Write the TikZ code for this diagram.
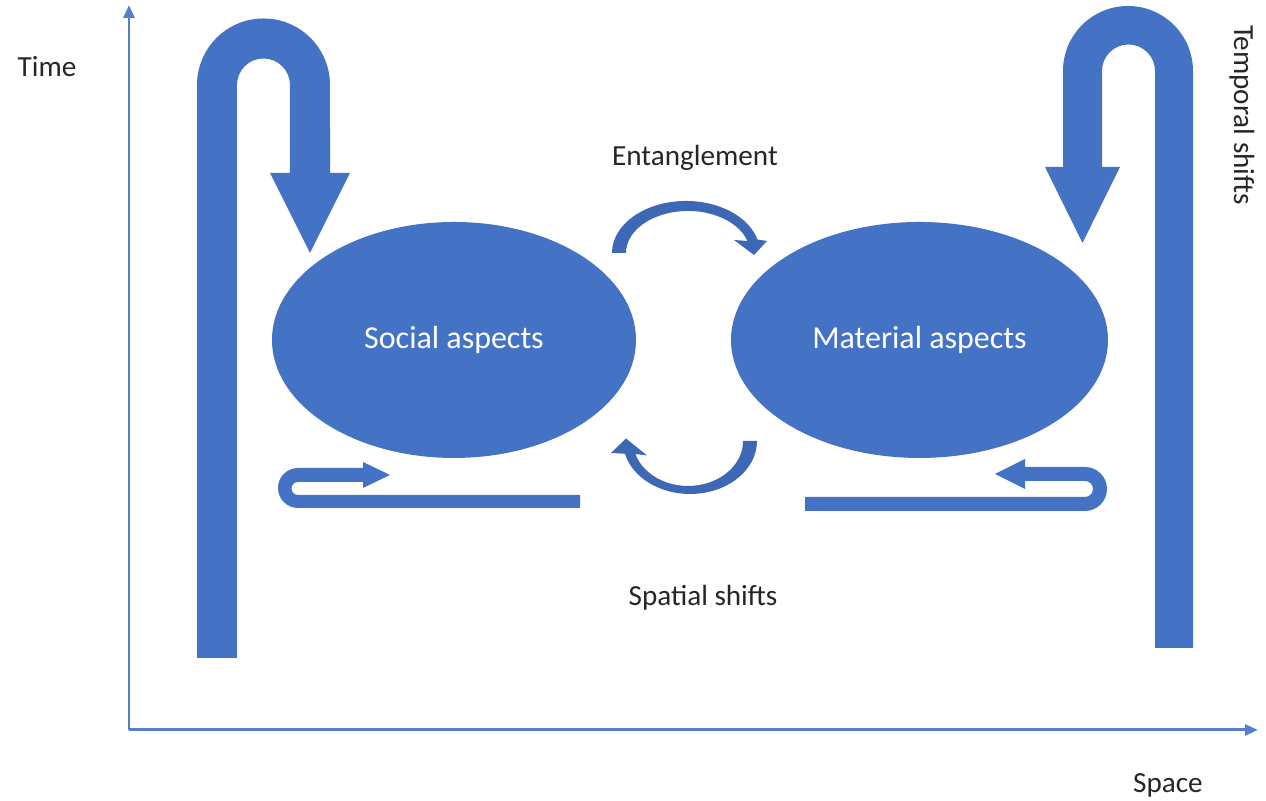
\documentclass[tikz,border=0pt]{standalone}
\usepackage{fontspec}
\setmainfont{Carlito}
\usetikzlibrary{shapes.geometric}
\usetikzlibrary{arrows.meta}
\definecolor{shapeblue}{HTML}{4472C4}
\definecolor{curveblue}{HTML}{3D68B6}

\begin{document}
\begin{tikzpicture}[scale=1.0,
        aspect/.style={ellipse, fill=shapeblue, text=white, font=\fontsize{9.1}{11}\selectfont},
        lbl/.style={font=\fontsize{8.3}{10}\selectfont, text=black!85},
        axis/.style={line width=0.85pt, shapeblue!90, -{Triangle[length=0.13cm,width=0.11cm]}}]
        \useasboundingbox (0,0) rectangle (12.66,8.01);

        % Axes
        \coordinate (origin) at (1.29,0.71);
        \coordinate (ytop) at (1.29,7.96);
        \coordinate (xend) at (12.58,0.71);
        \draw[axis] (origin) -- (ytop);
        \draw[axis] (origin) -- (xend);
        \node[lbl] (time) at (0.47,7.34) {Time};
        \node[lbl] (space) at (11.68,0.16) {Space};

        % Temporal shift arrows
        \fill[shapeblue] (1.97,1.43) -- (1.97,7.16) arc[start angle=180,end angle=0,radius=0.665]
            -- (3.30,6.28) -- (3.50,6.28) -- (3.10,5.48) -- (2.70,6.28) -- (2.90,6.28)
            -- (2.90,7.16) arc[start angle=0,end angle=180,radius=0.265] -- (2.37,1.43) -- cycle;
        \fill[shapeblue] (11.93,1.53) -- (11.93,7.30) arc[start angle=0,end angle=180,radius=0.65]
            -- (10.63,6.34) -- (10.45,6.34) -- (10.825,5.58) -- (11.20,6.34) -- (11.02,6.34)
            -- (11.02,7.30) arc[start angle=180,end angle=0,radius=0.265] -- (11.55,1.53) -- cycle;
        \node[lbl, rotate=-90] (temporal) at (12.42,6.86) {Temporal shifts};

        % Social and material aspects
        \node[aspect, minimum width=3.64cm, minimum height=2.36cm] (social) at (4.54,4.61) {Social aspects};
        \node[aspect, minimum width=3.77cm, minimum height=2.36cm] (material) at (9.195,4.61) {Material aspects};

        % Entanglement arrows (tapered shaft, head at the end)
        \fill[curveblue] (6.12,5.48) arc[start angle=180,end angle=15,x radius=0.74,y radius=0.52]
            -- (7.67,5.60) -- (7.54,5.46) -- (7.34,5.61) -- (7.474,5.60)
            arc[start angle=16.6,end angle=180,x radius=0.62,y radius=0.42] -- cycle;
        \fill[curveblue] (7.57,3.60) arc[start angle=0,end angle=-166,x radius=0.67,y radius=0.53]
            -- (6.11,3.48) -- (6.26,3.625) -- (6.47,3.455) -- (6.354,3.47)
            arc[start angle=-163.2,end angle=0,x radius=0.55,y radius=0.45] -- cycle;
        \node[lbl] (entangle) at (6.95,6.43) {Entanglement};

        % Spatial shift arrows
        \fill[shapeblue] (5.80,2.93) -- (2.98,2.93) arc[start angle=270,end angle=90,radius=0.20]
            -- (3.63,3.33) -- (3.63,3.39) -- (3.90,3.26) -- (3.63,3.13) -- (3.63,3.19)
            -- (2.98,3.19) arc[start angle=90,end angle=270,radius=0.065] -- (5.80,3.06) -- cycle;
        \fill[shapeblue] (8.05,2.90) -- (10.85,2.90) arc[start angle=-90,end angle=90,radius=0.22]
            -- (10.25,3.34) -- (10.25,3.42) -- (9.95,3.27) -- (10.25,3.12) -- (10.25,3.20)
            -- (10.85,3.20) arc[start angle=90,end angle=-90,radius=0.08] -- (8.05,3.04) -- cycle;
        \node[lbl] (spatial) at (7.03,2.03) {Spatial shifts};

    \end{tikzpicture}
\end{document}
